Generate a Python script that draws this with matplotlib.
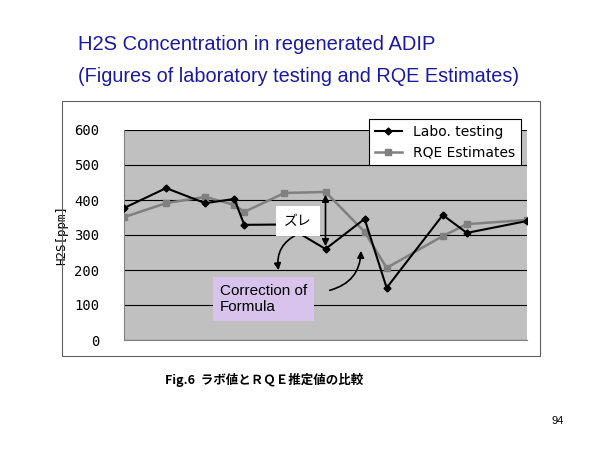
import matplotlib
matplotlib.use("Agg")
import matplotlib.pyplot as plt
from matplotlib.patches import Rectangle, FancyArrowPatch

x_pos = [0, 42, 81, 110, 120, 160, 201, 240, 262, 318, 342, 402]
labo = [377, 434, 391, 403, 329, 330, 260, 346, 149, 357, 306, 340]
rqe = [351, 391, 409, 386, 366, 420, 423, 309, 206, 297, 331, 343]
yticks = [0, 100, 200, 300, 400, 500, 600]

W, H = 600, 450
fig = plt.figure(figsize=(6, 4.5), dpi=100)
def fx(p): return p / W
def fy(p): return 1 - p / H

fig.text(fx(78), fy(45), "H2S Concentration in regenerated ADIP", color="#1a1aa0", fontsize=14.5, family="Liberation Sans", va="center")
fig.text(fx(78), fy(76), "(Figures of laboratory testing and RQE Estimates)", color="#1a1aa0", fontsize=14.3, family="Liberation Sans", va="center")
fig.patches.append(Rectangle((fx(62), fy(356)), fx(540 - 62), (356 - 101) / H, transform=fig.transFigure, fill=False, ec="#606060", lw=0.8))

ax = fig.add_axes([fx(124), fy(340), fx(403), 210 / H])
ax.set_facecolor("#c0c0c0")
ax.plot(x_pos, rqe, color="#808080", marker="s", ms=4.5, lw=1.8, label="RQE Estimates", zorder=3)
ax.plot(x_pos, labo, color="black", marker="D", ms=3.5, lw=1.5, label="Labo. testing", zorder=4)
ax.set_xlim(0, 402)
ax.set_ylim(0, 600)
ax.set_yticks(yticks)
ax.set_yticklabels([str(v) for v in yticks], family="DejaVu Sans Mono", fontsize=10)
ax.yaxis.grid(True, color="black", lw=0.8)
ax.set_axisbelow(True)
ax.set_xticks([])
for s in ["top", "right"]:
    ax.spines[s].set_visible(False)
ax.spines["left"].set_color("#808080")
ax.spines["bottom"].set_color("#808080")
ax.tick_params(axis="y", length=0, pad=18)
ax.set_ylabel("H2S[ppm]", family="DejaVu Sans Mono", fontsize=9)
h, l = ax.get_legend_handles_labels()
leg = fig.legend(h[::-1], l[::-1], loc="upper left", bbox_to_anchor=(fx(369), fy(119)), frameon=True, fancybox=False, edgecolor="black", fontsize=10, handlelength=2, borderaxespad=0, framealpha=1)
leg.get_frame().set_linewidth(0.8)

ax.annotate("", xy=(201, 423), xytext=(201, 260), arrowprops=dict(arrowstyle="<|-|>", color="black", lw=1.2))
fig.text(fx(298), fy(221), "ズレ", family="Noto Sans CJK JP", fontsize=10, ha="center", va="center", zorder=6,
         bbox=dict(boxstyle="square,pad=0.55", fc="white", ec="none"))
fig.text(fx(220), fy(299), "Correction of\nFormula", family="Liberation Sans", fontsize=11, ha="left", va="center",
         bbox=dict(boxstyle="square,pad=0.45", fc="#d8c3ec", ec="none"), zorder=5)
fig.patches.append(FancyArrowPatch((fx(300), fy(233)), (fx(279), fy(273)), transform=fig.transFigure,
                   connectionstyle="arc3,rad=0.4", arrowstyle="-|>", mutation_scale=10, color="black", lw=1.2))
fig.patches.append(FancyArrowPatch((fx(327), fy(291)), (fx(361), fy(248)), transform=fig.transFigure,
                   connectionstyle="arc3,rad=0.4", arrowstyle="-|>", mutation_scale=10, color="black", lw=1.2))

fig.text(fx(165), fy(380), "Fig.6  ラボ値とＲＱＥ推定値の比較", family="Noto Sans CJK JP", fontsize=9, va="center", weight="bold")
fig.text(fx(552), fy(421), "94", family="Liberation Sans", fontsize=8, va="center")
fig.savefig("out.png", dpi=100)
